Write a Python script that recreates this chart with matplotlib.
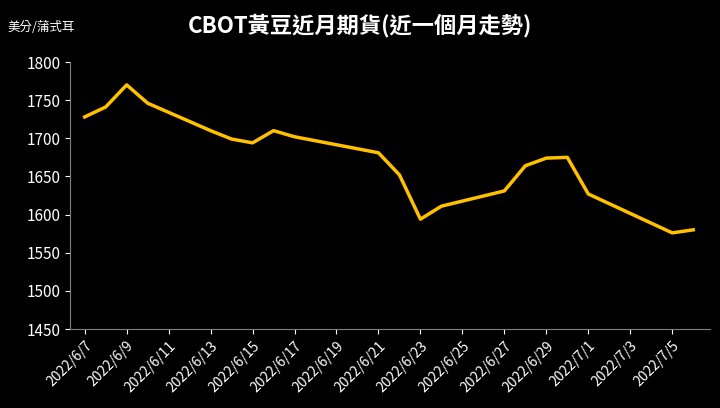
import datetime as dt
import matplotlib
matplotlib.use("Agg")
import matplotlib.pyplot as plt
import matplotlib.dates as mdates

plt.rcParams['font.family'] = ['Noto Sans CJK TC', 'DejaVu Sans']

dates = ["2022-06-07", "2022-06-08", "2022-06-09", "2022-06-10", "2022-06-13", "2022-06-14",
         "2022-06-15", "2022-06-16", "2022-06-17", "2022-06-21", "2022-06-22", "2022-06-23",
         "2022-06-24", "2022-06-27", "2022-06-28", "2022-06-29", "2022-06-30", "2022-07-01",
         "2022-07-05", "2022-07-06"]
prices = [1728, 1741, 1770, 1746, 1710, 1699, 1694, 1710, 1702, 1681, 1652, 1594,
          1611, 1631, 1664, 1674, 1675, 1627, 1576, 1580]

x = [dt.datetime.strptime(d, "%Y-%m-%d") for d in dates]

fig = plt.figure(figsize=(7.2, 4.08), dpi=100, facecolor="black")
ax = fig.add_axes([70 / 720, 1 - 329 / 408, 640 / 720, 267 / 408], facecolor="black")
ax.plot(x, prices, color="#FFC000", linewidth=2.5)

ax.set_ylim(1450, 1800)
ax.set_yticks(range(1450, 1801, 50))
ax.set_xlim(x[0] - dt.timedelta(days=0.7), x[0] + dt.timedelta(days=29.8))
ax.xaxis.set_major_locator(mdates.DayLocator(bymonthday=[7, 9, 11, 13, 15, 17, 19, 21, 23, 25, 27, 29, 1, 3, 5]))
ax.xaxis.set_major_formatter(mdates.DateFormatter("%Y/%-m/%-d"))
for lbl in ax.get_xticklabels():
    lbl.set_rotation(45)
    lbl.set_ha("right")
    lbl.set_rotation_mode("anchor")

ax.tick_params(colors="white", labelsize=10)
ax.tick_params(axis="y", labelsize=11)
for side in ["top", "right"]:
    ax.spines[side].set_visible(False)
for side in ["left", "bottom"]:
    ax.spines[side].set_color("#808080")

fig.text(0.5, 0.92, "CBOT黃豆近月期貨(近一個月走勢)", color="white", fontsize=16,
         fontweight="bold", ha="center")
fig.text(0.01, 0.925, "美分/蒲式耳", color="white", fontsize=9, ha="left")

fig.savefig("out.png", dpi=100, facecolor="black")
